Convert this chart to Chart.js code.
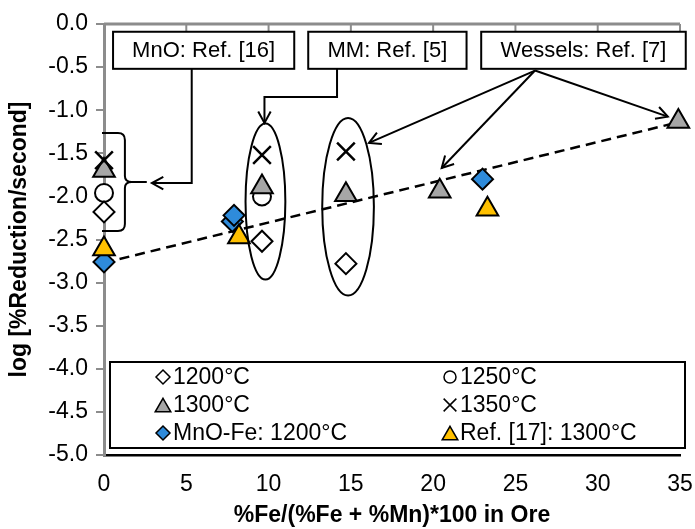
<!doctype html>
<html lang="en">
<head>
<meta charset="utf-8">
<title>log reduction rate vs Fe in ore</title>
<script src="https://cdn.jsdelivr.net/npm/chart.js@4"></script>
<style>
  body { margin: 0; background: #fff; }
  canvas { display: block; }
</style>
</head>
<body>
<canvas id="grafico" width="695" height="529"></canvas>
<script>

// values
var x1200 = [0, 9.6, 14.7];
var y1200 = [-2.18, -2.52, -2.78];

var x1250 = [0, 9.6];
var y1250 = [-1.96, -2.00];

var x1300 = [0, 9.6, 14.7, 20.4, 34.9];
var y1300 = [-1.70, -1.89, -1.98, -1.94, -1.13];

var x1350 = [0, 9.6, 14.7];
var y1350 = [-1.58, -1.52, -1.48];

var xMnOFe = [0, 7.8, 7.9, 23.0];
var yMnOFe = [-2.76, -2.29, -2.22, -1.80];

var xRef17 = [0, 8.2, 23.3];
var yRef17 = [-2.61, -2.47, -2.15];

var xTrend = [0, 34.9];
var yTrend = [-2.77, -1.14];

var seriesLabels = ['1200°C', '1250°C', '1300°C', '1350°C', 'MnO-Fe: 1200°C', 'Ref. [17]: 1300°C'];
var xTicks = [0, 5, 10, 15, 20, 25, 30, 35];

// callouts, in data units
var boxes = [
    { text: 'MnO: Ref. [16]', x0: 0.55, x1: 11.56, y0: -0.09, y1: -0.52 },
    { text: 'MM: Ref. [5]', x0: 12.41, x1: 22.03, y0: -0.09, y1: -0.52 },
    { text: 'Wessels: Ref. [7]', x0: 22.92, x1: 35.35, y0: -0.09, y1: -0.52 }
];
var ellipses = [
    { x: 9.81, y: -2.06, rx: 1.21, ry: 0.905 },
    { x: 14.83, y: -2.12, rx: 1.57, ry: 1.03 }
];
var arrows = [
    [[5.33, -0.52], [5.33, -1.845], [2.91, -1.845]],
    [[14.16, -0.52], [14.16, -0.847], [9.75, -0.847], [9.75, -1.148]],
    [[26.19, -0.54], [16.1, -1.38]],
    [[26.19, -0.54], [20.52, -1.67]],
    [[26.19, -0.54], [34.26, -1.075]]
];

var fonte = 'Arial, "Liberation Sans", sans-serif';

function pontos(xs, ys) {
    return xs.map(function (x, i) { return { x: x, y: ys[i] }; });
}

function drawMarker(ctx, estilo, x, y, r, fundo, linha, espessura) {
    ctx.save();
    ctx.beginPath();
    if (estilo === 'rectRot') {
        ctx.moveTo(x, y - r);
        ctx.lineTo(x + r, y);
        ctx.lineTo(x, y + r);
        ctx.lineTo(x - r, y);
        ctx.closePath();
    } else if (estilo === 'circle') {
        ctx.arc(x, y, r, 0, Math.PI * 2);
    } else if (estilo === 'triangle') {
        y += r / 4;
        ctx.moveTo(x, y - r);
        ctx.lineTo(x + r * 0.866, y + r / 2);
        ctx.lineTo(x - r * 0.866, y + r / 2);
        ctx.closePath();
    } else {
        var d = r * 0.707;
        ctx.moveTo(x - d, y - d);
        ctx.lineTo(x + d, y + d);
        ctx.moveTo(x + d, y - d);
        ctx.lineTo(x - d, y + d);
    }
    if (estilo !== 'crossRot') {
        ctx.fillStyle = fundo;
        ctx.fill();
    }
    ctx.lineWidth = espessura;
    ctx.strokeStyle = linha;
    ctx.stroke();
    ctx.restore();
}

// top axis line, callout boxes, arrows, brace, ellipses
var anotacoes = {
    id: 'anotacoes',
    afterDatasetsDraw: function (chart) {
        var ctx = chart.ctx;
        var sx = chart.scales.x, sy = chart.scales.y;
        var px = function (v) { return sx.getPixelForValue(v); };
        var py = function (v) { return sy.getPixelForValue(v); };

        ctx.save();
        // horizontal axis crossing at 0
        ctx.strokeStyle = '#8c8c8c';
        ctx.lineWidth = 3;
        ctx.beginPath();
        ctx.moveTo(chart.chartArea.left, py(0));
        ctx.lineTo(chart.chartArea.right, py(0));
        ctx.stroke();
        ctx.lineWidth = 2;
        xTicks.forEach(function (t) {
            ctx.beginPath();
            ctx.moveTo(px(t), py(0));
            ctx.lineTo(px(t), py(0) + 7);
            ctx.stroke();
        });

        ctx.strokeStyle = '#000';
        ctx.lineWidth = 2;

        ellipses.forEach(function (e) {
            var rx = Math.abs(px(e.x + e.rx) - px(e.x));
            var ry = Math.abs(py(e.y + e.ry) - py(e.y));
            ctx.beginPath();
            ctx.ellipse(px(e.x), py(e.y), rx, ry, 0, 0, Math.PI * 2);
            ctx.stroke();
        });

        // brace beside the 0 % Fe column
        var bx0 = px(-0.12), bx1 = px(0.85), bx2 = px(1.27), bx3 = px(1.69), bx4 = px(2.6);
        ctx.beginPath();
        ctx.moveTo(bx0, py(-1.265));
        ctx.lineTo(bx1, py(-1.265));
        ctx.quadraticCurveTo(bx2, py(-1.265), bx2, py(-1.346));
        ctx.lineTo(bx2, py(-1.763));
        ctx.quadraticCurveTo(bx2, py(-1.833), bx3, py(-1.833));
        ctx.quadraticCurveTo(bx2, py(-1.833), bx2, py(-1.903));
        ctx.lineTo(bx2, py(-2.32));
        ctx.quadraticCurveTo(bx2, py(-2.40), bx1, py(-2.40));
        ctx.lineTo(bx0, py(-2.40));
        ctx.moveTo(bx3, py(-1.833));
        ctx.lineTo(bx4, py(-1.833));
        ctx.stroke();

        arrows.forEach(function (a) {
            ctx.beginPath();
            ctx.moveTo(px(a[0][0]), py(a[0][1]));
            for (var i = 1; i < a.length; i++) ctx.lineTo(px(a[i][0]), py(a[i][1]));
            ctx.stroke();
            var n = a.length;
            var tx = px(a[n - 1][0]), ty = py(a[n - 1][1]);
            var ang = Math.atan2(ty - py(a[n - 2][1]), tx - px(a[n - 2][0]));
            ctx.beginPath();
            ctx.moveTo(tx - 13 * Math.cos(ang - 0.5), ty - 13 * Math.sin(ang - 0.5));
            ctx.lineTo(tx, ty);
            ctx.lineTo(tx - 13 * Math.cos(ang + 0.5), ty - 13 * Math.sin(ang + 0.5));
            ctx.stroke();
        });

        ctx.font = '22px ' + fonte;
        ctx.textAlign = 'center';
        ctx.textBaseline = 'middle';
        boxes.forEach(function (b) {
            var l = px(b.x0), r = px(b.x1), t = py(b.y0), bo = py(b.y1);
            ctx.fillStyle = '#fff';
            ctx.fillRect(l, t, r - l, bo - t);
            ctx.strokeRect(l, t, r - l, bo - t);
            ctx.fillStyle = '#000';
            ctx.fillText(b.text, (l + r) / 2, (t + bo) / 2 + 1);
        });
        ctx.restore();
    }
};

// legend box inside the plot
var legenda = {
    id: 'legenda',
    afterDraw: function (chart) {
        var ctx = chart.ctx;
        var area = chart.chartArea;
        var left = area.left + 6, right = area.right + 5;
        var bottom = area.bottom - 7, top = bottom - 86;
        ctx.save();
        ctx.fillStyle = '#fff';
        ctx.fillRect(left, top, right - left, bottom - top);
        ctx.strokeStyle = '#000';
        ctx.lineWidth = 2;
        ctx.strokeRect(left, top, right - left, bottom - top);

        var colunas = [left + 45, left + 332];
        var tamanhos = { rectRot: 7, circle: 6, triangle: 9, crossRot: 9 };
        ctx.font = '23px ' + fonte;
        ctx.textAlign = 'left';
        ctx.textBaseline = 'middle';
        chart.data.datasets.forEach(function (ds, i) {
            if (i >= seriesLabels.length) return;
            var cx = colunas[i % 2];
            var cy = top + 15 + Math.floor(i / 2) * 28;
            drawMarker(ctx, ds.pointStyle, cx + 8, cy, tamanhos[ds.pointStyle],
                ds.pointBackgroundColor, '#000', 1.5);
            ctx.fillStyle = '#000';
            ctx.fillText(ds.label, cx + 18, cy + 1);
        });
        ctx.restore();
    }
};

function serie(indice, xs, ys, estilo, raio, cor, ordem) {
    return {
        label: seriesLabels[indice],
        data: pontos(xs, ys),
        pointStyle: estilo,
        pointRadius: raio,
        pointBackgroundColor: cor,
        pointBorderColor: '#000',
        pointBorderWidth: estilo === 'crossRot' ? 2.5 : 2,
        showLine: false,
        clip: false,
        order: ordem
    };
}

var ctx = document.getElementById('grafico');

new Chart(ctx, {
    type: 'scatter',
    data: {
        datasets: [
            serie(0, x1200, y1200, 'rectRot', 10.5, '#ffffff', 5),
            serie(1, x1250, y1250, 'circle', 9, '#ffffff', 6),
            serie(2, x1300, y1300, 'triangle', 12.5, '#a6a6a6', 3),
            serie(3, x1350, y1350, 'crossRot', 12.5, '#000000', 1),
            serie(4, xMnOFe, yMnOFe, 'rectRot', 10.5, '#2e8bdb', 4),
            serie(5, xRef17, yRef17, 'triangle', 12.5, '#ffc000', 2),
            {
                label: 'trend',
                data: pontos(xTrend, yTrend),
                showLine: true,
                borderColor: '#000',
                borderWidth: 2.5,
                borderDash: [10, 6],
                pointRadius: 0,
                clip: false,
                order: 10
            }
        ]
    },
    options: {
        responsive: false,
        animation: false,
        devicePixelRatio: 1,
        events: [],
        layout: { padding: { top: 24, right: 13, left: 0, bottom: 0 } },
        plugins: {
            legend: { display: false },
            tooltip: { enabled: false }
        },
        scales: {
            x: {
                type: 'linear',
                min: 0,
                max: 35,
                afterFit: function (s) {
                    s.height = 74;
                    s.paddingLeft = 0;
                    s.paddingRight = 0;
                },
                afterBuildTicks: function (s) { s.ticks = xTicks.map(function (v) { return { value: v }; }); },
                grid: { display: false, drawTicks: false },
                border: { display: true, color: '#000', width: 2.5 },
                ticks: {
                    padding: 16,
                    maxRotation: 0,
                    color: '#000',
                    font: { family: fonte, size: 23 }
                },
                title: {
                    display: true,
                    text: '%Fe/(%Fe + %Mn)*100 in Ore',
                    color: '#000',
                    padding: { top: 0, bottom: 0 },
                    font: { family: fonte, size: 23, weight: 'bold' }
                }
            },
            y: {
                min: -5,
                max: 0,
                afterFit: function (s) {
                    s.width = 104;
                    s.paddingTop = 0;
                    s.paddingBottom = 0;
                },
                grid: {
                    display: true,
                    drawOnChartArea: false,
                    drawTicks: true,
                    tickLength: 8,
                    color: '#8c8c8c',
                    lineWidth: 2
                },
                border: { display: true, color: '#8c8c8c', width: 3 },
                ticks: {
                    stepSize: 0.5,
                    padding: 8,
                    color: '#000',
                    font: { family: fonte, size: 23 },
                    callback: function (v) { return Number(v).toFixed(1); }
                },
                title: {
                    display: true,
                    text: 'log [%Reduction/second]',
                    color: '#000',
                    padding: { top: 6, bottom: 0 },
                    font: { family: fonte, size: 23, weight: 'bold' }
                }
            }
        }
    },
    plugins: [anotacoes, legenda]
});

</script>
</body>
</html>
